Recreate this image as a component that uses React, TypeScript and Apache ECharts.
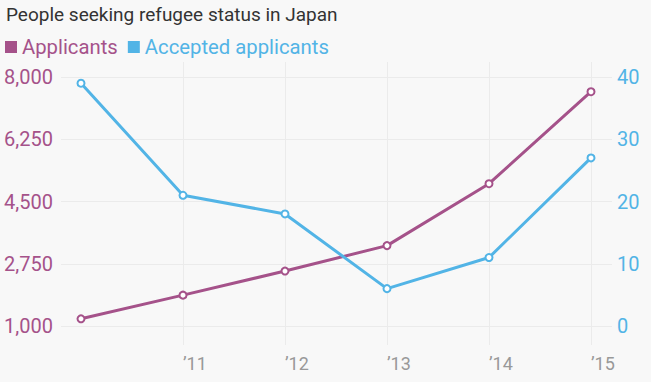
import React, { useEffect, useRef } from "react";
import * as echarts from "echarts";

const years = ["2010", "2011", "2012", "2013", "2014", "2015"];
const yearLabels = ["", "\u201911", "\u201912", "\u201913", "\u201914", "\u201915"];
const applicants = [1202, 1867, 2545, 3260, 5000, 7586];
const accepted = [39, 21, 18, 6, 11, 27];
const leftTicks = { min: 1000, max: 8000, interval: 1750 };
const rightTicks = { min: 0, max: 40, interval: 10 };

const PURPLE = "#a5528a";
const BLUE = "#52b4e6";
const GRIDC = "#ebebeb";
const FONT = "Roboto, 'Noto Sans', sans-serif";

export default function App() {
  const ref = useRef<HTMLDivElement>(null);
  useEffect(() => {
    document.body.style.margin = "0";
    const chart = echarts.init(ref.current!, null, { renderer: "svg" });
    chart.setOption({
      animation: false,
      backgroundColor: "#f8f8f8",
      textStyle: { fontFamily: FONT },
      title: {
        text: "People seeking refugee status in Japan",
        left: 1,
        top: 0,
        textStyle: { fontSize: 19, fontWeight: "normal", color: "#333", fontFamily: FONT },
      },
      legend: {
        left: 0,
        top: 32,
        icon: "rect",
        itemWidth: 12,
        itemHeight: 12,
        itemGap: 10,
        data: [
          { name: "Applicants", textStyle: { color: PURPLE } },
          { name: "Accepted applicants", textStyle: { color: BLUE } },
        ],
        textStyle: { fontSize: 20.3, fontFamily: FONT },
      },
      grid: [
        { left: 81, right: 60, top: 77, bottom: 56 },
        { left: 81, right: 60, top: 62, bottom: 37 },
      ],
      xAxis: [
        {
          type: "category",
          gridIndex: 0,
          data: years,
          boundaryGap: false,
          show: false,
        },
        {
          type: "category",
          gridIndex: 1,
          data: yearLabels,
          boundaryGap: false,
          axisLine: { show: false },
          axisTick: { show: false },
          splitLine: {
            show: true,
            interval: (i: number) => i !== 0,
            lineStyle: { color: GRIDC, width: 1 },
          },
          axisLabel: {
            align: "left",
            margin: 9,
            fontSize: 18,
            color: "#999",
            interval: 0,
            fontFamily: FONT,
          },
        },
      ],
      yAxis: [
        {
          type: "value",
          gridIndex: 0,
          position: "left",
          min: leftTicks.min,
          max: leftTicks.max,
          interval: leftTicks.interval,
          axisLine: { show: false },
          axisTick: { show: true, length: 20, lineStyle: { color: GRIDC } },
          splitLine: { show: true, lineStyle: { color: GRIDC } },
          axisLabel: {
            margin: 28,
            fontSize: 20,
            color: PURPLE,
            fontFamily: FONT,
            formatter: (v: number) => v.toLocaleString("en-US"),
          },
        },
        {
          type: "value",
          gridIndex: 0,
          position: "right",
          min: rightTicks.min,
          max: rightTicks.max,
          interval: rightTicks.interval,
          axisLine: { show: false },
          axisTick: { show: true, length: 21, lineStyle: { color: GRIDC } },
          splitLine: { show: false },
          axisLabel: {
            margin: 26,
            fontSize: 20,
            color: BLUE,
            fontFamily: FONT,
          },
        },
        { type: "value", gridIndex: 1, show: false, splitLine: { show: false } },
      ],
      series: [
        {
          name: "Applicants",
          type: "line",
          xAxisIndex: 0,
          yAxisIndex: 0,
          data: applicants,
          color: PURPLE,
          symbol: "emptyCircle",
          symbolSize: 7,
          lineStyle: { width: 3, color: PURPLE },
          itemStyle: { color: PURPLE, borderWidth: 2 },
          z: 3,
        },
        {
          name: "Accepted applicants",
          type: "line",
          xAxisIndex: 0,
          yAxisIndex: 1,
          data: accepted,
          color: BLUE,
          symbol: "emptyCircle",
          symbolSize: 7,
          lineStyle: { width: 3, color: BLUE },
          itemStyle: { color: BLUE, borderWidth: 2 },
          z: 4,
        },
      ],
    });
    return () => chart.dispose();
  }, []);
  return <div ref={ref} style={{ width: 651, height: 382 }} />;
}
